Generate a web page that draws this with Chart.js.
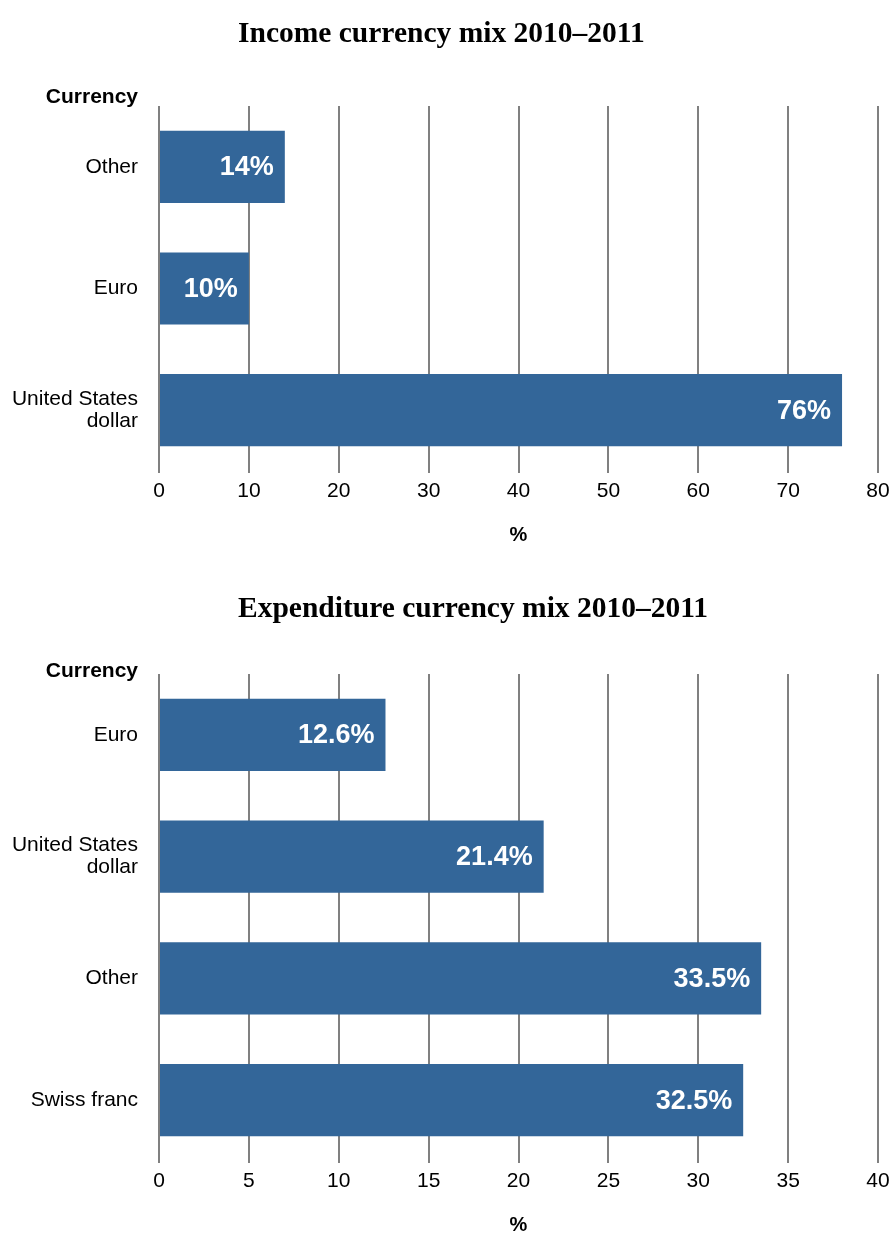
<!DOCTYPE html>
<html>
<head>
<meta charset="utf-8">
<title>Currency mix 2010–2011</title>
<script src="https://cdn.jsdelivr.net/npm/chart.js@4.4.1/dist/chart.umd.min.js"></script>
<style>
  html, body { margin: 0; padding: 0; background: #fff; }
  canvas { display: block; }
</style>
</head>
<body>
<canvas id="incomeChart" width="890" height="547"></canvas>
<canvas id="expenditureChart" width="890" height="690"></canvas>
<script>
// Data ---------------------------------------------------------------------------------

var INCOME_TITLE = 'Income currency mix 2010–2011';
var INCOME_CURRENCIES = ['Other', 'Euro', ['United States', 'dollar']];
var INCOME_SHARES = [14, 10, 76];
var INCOME_AXIS_MAX = 80;
var INCOME_AXIS_STEP = 10;

var EXPENDITURE_TITLE = 'Expenditure currency mix 2010–2011';
var EXPENDITURE_CURRENCIES = ['Euro', ['United States', 'dollar'], 'Other', 'Swiss franc'];
var EXPENDITURE_SHARES = [12.6, 21.4, 33.5, 32.5];
var EXPENDITURE_AXIS_MAX = 40;
var EXPENDITURE_AXIS_STEP = 5;

var CATEGORY_AXIS_TITLE = 'Currency';
var VALUE_AXIS_TITLE = '%';

// Constants ----------------------------------------------------------------------------

var SANS = '"Liberation Sans", Arial, sans-serif';
var SERIF = '"Liberation Serif", "Times New Roman", serif';

var BAR_COLOR = '#336699';
var GRID_COLOR = '#808080';
var TEXT_COLOR = '#000000';

var PLOT_LEFT = 159;
var PLOT_RIGHT_GAP = 12;
var TITLE_LEFT = 238;
var X_AXIS_HEIGHT = 76;

// Title, "Currency" header and the value written inside each bar
var labelsPlugin = {
    id: 'currencyLabels',
    afterDatasetsDraw: function (chart, args, opts) {
        var ctx = chart.ctx;
        var meta = chart.getDatasetMeta(0);
        var values = chart.data.datasets[0].data;

        ctx.save();
        ctx.fillStyle = '#ffffff';
        ctx.font = 'bold 27px ' + SANS;
        ctx.textAlign = 'right';
        ctx.textBaseline = 'middle';
        meta.data.forEach(function (bar, i) {
            ctx.fillText(values[i].toFixed(opts.decimals) + '%', bar.x - 11, bar.y + 1);
        });

        ctx.fillStyle = TEXT_COLOR;
        ctx.textBaseline = 'alphabetic';
        ctx.font = 'bold 21px ' + SANS;
        ctx.fillText(CATEGORY_AXIS_TITLE, PLOT_LEFT - 21, opts.headerBaseline);

        ctx.textAlign = 'left';
        ctx.font = 'bold 29.5px ' + SERIF;
        ctx.fillText(opts.title, TITLE_LEFT, opts.titleBaseline);
        ctx.restore();
    }
};

function buildCurrencyChart(canvasId, title, currencies, shares, axisMax, axisStep, decimals, placement) {
    return new Chart(document.getElementById(canvasId), {
        type: 'bar',
        data: {
            labels: currencies,
            datasets: [{
                data: shares,
                backgroundColor: BAR_COLOR,
                borderWidth: 0,
                barPercentage: 0.593,
                categoryPercentage: 1.0
            }]
        },
        options: {
            indexAxis: 'y',
            responsive: false,
            animation: false,
            devicePixelRatio: 1,
            layout: {
                padding: { top: placement.plotTop, right: PLOT_RIGHT_GAP, bottom: 0, left: 0 }
            },
            plugins: {
                legend: { display: false },
                tooltip: { enabled: false },
                title: { display: false },
                currencyLabels: {
                    title: title,
                    decimals: decimals,
                    titleBaseline: placement.titleBaseline,
                    headerBaseline: placement.headerBaseline
                }
            },
            scales: {
                x: {
                    min: 0,
                    max: axisMax,
                    border: { display: false },
                    grid: {
                        color: GRID_COLOR,
                        lineWidth: 2,
                        drawTicks: true,
                        tickLength: 2
                    },
                    ticks: {
                        stepSize: axisStep,
                        padding: 6,
                        color: TEXT_COLOR,
                        font: { family: SANS, size: 21 }
                    },
                    title: {
                        display: true,
                        text: VALUE_AXIS_TITLE,
                        color: TEXT_COLOR,
                        padding: 0,
                        font: { family: SANS, size: 20, weight: 'bold' }
                    },
                    afterFit: function (scale) {
                        // the end labels may hang over the margins
                        scale.height = X_AXIS_HEIGHT;
                        scale.paddingLeft = 0;
                        scale.paddingRight = 0;
                    }
                },
                y: {
                    border: { display: false },
                    grid: { display: false, drawTicks: false },
                    ticks: {
                        padding: 21,
                        color: TEXT_COLOR,
                        font: { family: SANS, size: 21, lineHeight: 1.05 }
                    },
                    afterFit: function (scale) {
                        scale.width = PLOT_LEFT;
                    }
                }
            }
        },
        plugins: [labelsPlugin]
    });
}

buildCurrencyChart('incomeChart', INCOME_TITLE, INCOME_CURRENCIES, INCOME_SHARES,
    INCOME_AXIS_MAX, INCOME_AXIS_STEP, 0,
    { plotTop: 106, titleBaseline: 42, headerBaseline: 103 });

buildCurrencyChart('expenditureChart', EXPENDITURE_TITLE, EXPENDITURE_CURRENCIES, EXPENDITURE_SHARES,
    EXPENDITURE_AXIS_MAX, EXPENDITURE_AXIS_STEP, 1,
    { plotTop: 127, titleBaseline: 70, headerBaseline: 130 });
</script>
</body>
</html>
